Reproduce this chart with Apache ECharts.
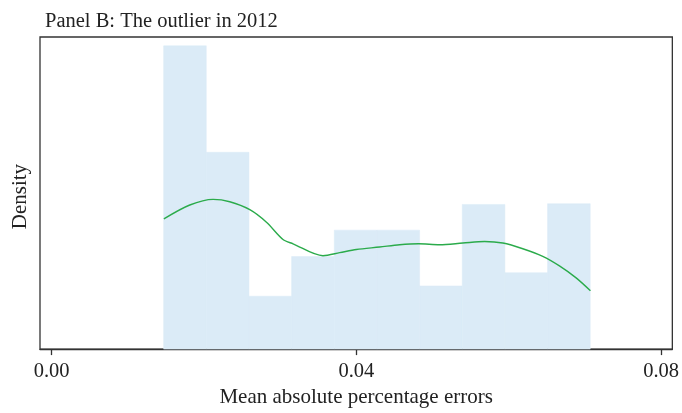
<!DOCTYPE html>
<html>
<head>
<meta charset="utf-8">
<script src="https://cdn.jsdelivr.net/npm/echarts@6/dist/echarts.min.js"></script>
<style>html,body{margin:0;padding:0;background:#fff}#c{width:682px;height:413px}</style>
</head>
<body>
<div id="c"></div>
<script>
// Histogram bin edges (MAPE) and densities
const binEdges = [0.0147, 0.0203, 0.0259, 0.0315, 0.0371, 0.0427, 0.0483, 0.0539, 0.0595, 0.0651, 0.0707];
const binDensity = [41.3, 26.8, 7.2, 12.6, 16.2, 16.2, 8.6, 19.7, 10.4, 19.8];
// Kernel density curve
const kdeX = [0.01473, 0.01813, 0.02119, 0.02338, 0.02601, 0.02820, 0.03037, 0.03169, 0.03562, 0.03781, 0.04000, 0.04306, 0.04568, 0.04817, 0.05093, 0.05398, 0.05683, 0.05923, 0.06185, 0.06447, 0.06666, 0.06885, 0.07073];
const kdeY = [17.73, 19.62, 20.39, 20.07, 18.99, 17.28, 14.93, 14.34, 12.72, 13.13, 13.57, 13.90, 14.21, 14.34, 14.21, 14.44, 14.65, 14.44, 13.67, 12.63, 11.33, 9.70, 7.94];
const xTicks = [0, 0.04, 0.08];

const histData = binDensity.map((d, i) => [binEdges[i], binEdges[i + 1], d]);
const kdeData = kdeX.map((x, i) => [x, kdeY[i]]);
const serif = '"Liberation Serif", "DejaVu Serif", serif';

const chart = echarts.init(document.getElementById('c'), null, {renderer: 'canvas'});
chart.setOption({
  animation: false,
  backgroundColor: '#fff',
  title: {
    text: 'Panel B: The outlier in 2012',
    left: 40, top: 6,
    textStyle: {fontFamily: serif, fontSize: 20.5, fontWeight: 'normal', color: '#222'}
  },
  grid: {left: 40, right: 9, top: 37, bottom: 62, show: true, borderColor: '#333', borderWidth: 1.3, backgroundColor: 'transparent'},
  xAxis: {
    type: 'value', min: -0.00153, max: 0.08148,
    name: 'Mean absolute percentage errors', nameLocation: 'middle', nameGap: 33,
    nameTextStyle: {fontFamily: serif, fontSize: 21, color: '#222'},
    axisLine: {show: true, lineStyle: {color: '#333', width: 1.3}},
    axisTick: {show: true, customValues: xTicks, length: 6, lineStyle: {color: '#333', width: 1.3}},
    axisLabel: {customValues: xTicks, formatter: v => v.toFixed(2), margin: 12, fontFamily: serif, fontSize: 20.5, color: '#222'},
    splitLine: {show: false}
  },
  yAxis: {
    type: 'value', min: 0, max: 42.5,
    name: 'Density', nameLocation: 'middle', nameGap: 9, nameRotate: 90,
    nameTextStyle: {fontFamily: serif, fontSize: 21, color: '#222', padding: [0, 0, 0, -7]},
    axisLine: {show: false}, axisTick: {show: false}, axisLabel: {show: false}, splitLine: {show: false}
  },
  series: [
    {
      type: 'custom',
      data: histData,
      renderItem: function (params, api) {
        const p0 = api.coord([api.value(0), api.value(2)]);
        const p1 = api.coord([api.value(1), 0]);
        return {type: 'rect', shape: {x: p0[0], y: p0[1], width: p1[0] - p0[0], height: p1[1] - p0[1]},
          style: {fill: '#dbebf7', stroke: '#dbebf7', lineWidth: 0.5}};
      },
      encode: {x: [0, 1], y: 2},
      z: 1
    },
    {
      type: 'line', data: kdeData, smooth: 0.3, showSymbol: false,
      lineStyle: {color: '#2bab4b', width: 1.4}, z: 3
    }
  ]
});
</script>
</body>
</html>
